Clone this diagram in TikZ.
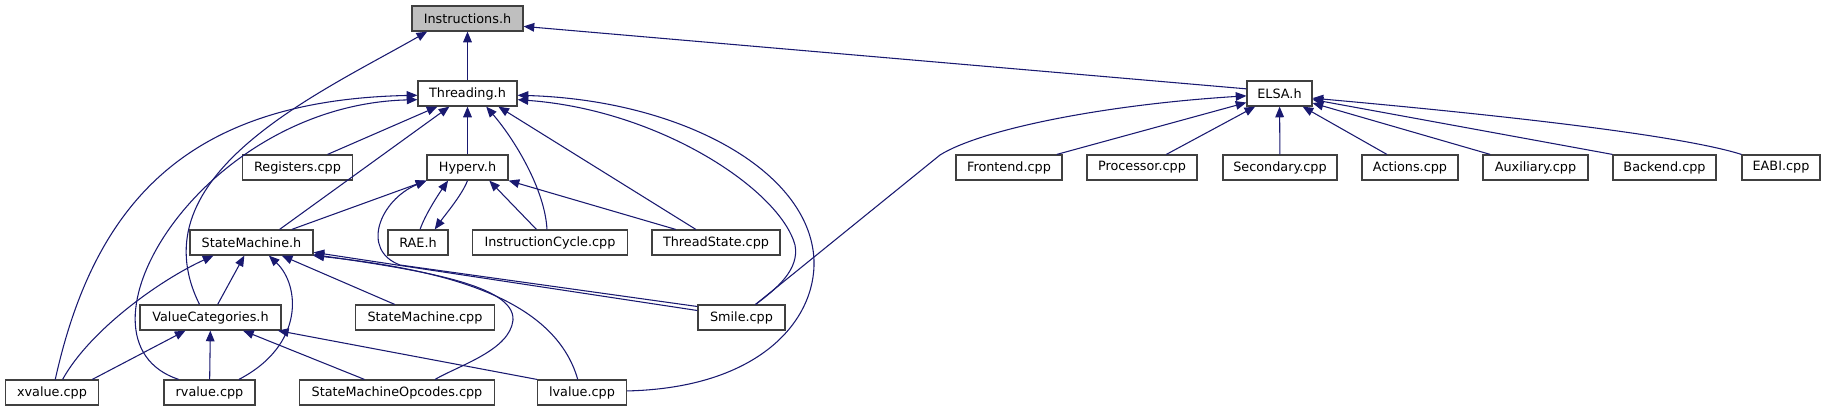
\documentclass[tikz,border=0pt]{standalone}
\usepackage{fontspec}
\setmainfont{DejaVu Sans}
\usepackage{tikz}
\usetikzlibrary{arrows.meta}
\definecolor{edgeblue}{HTML}{191970}
\definecolor{boxgrey}{HTML}{404040}
\definecolor{rootgrey}{HTML}{BFBFBF}

\begin{document}
\begin{tikzpicture}[x=0.75pt, y=-0.75pt]
    \tikzstyle{file} = [rectangle, draw=boxgrey, fill=white, line width=0.9pt, minimum height=18.75pt, inner sep=0pt, font=\fontsize{9.6}{11}\selectfont]
    \tikzstyle{root} = [file, fill=rootgrey]
    \tikzstyle{incl} = [draw=edgeblue, line width=0.8pt, {Triangle[length=8pt, width=6.5pt]}-]
    \useasboundingbox (0,0) rectangle (1826,411);

    % rank 0 and 1
    \node[root, minimum width=83.25pt] (instr) at (467.5,18.5) {Instructions.h};
    \node[file, minimum width=74.25pt] (threading) at (467.5,93.5) {Threading.h};
    \node[file, minimum width=48.75pt] (elsa) at (1279.5,93.5) {ELSA.h};

    % rank 2
    \node[file, minimum width=82.5pt] (registers) at (297.5,167.5) {Registers.cpp};
    \node[file, minimum width=60.75pt] (hyperv) at (467.5,167.5) {Hyperv.h};
    \node[file, minimum width=79.5pt] (frontend) at (1009,167.5) {Frontend.cpp};
    \node[file, minimum width=82.5pt] (processor) at (1142,167.5) {Processor.cpp};
    \node[file, minimum width=85.5pt] (secondary) at (1280,167.5) {Secondary.cpp};
    \node[file, minimum width=72pt] (actions) at (1410,167.5) {Actions.cpp};
    \node[file, minimum width=78.75pt] (auxiliary) at (1535.5,167.5) {Auxiliary.cpp};
    \node[file, minimum width=77.25pt] (backend) at (1664.5,167.5) {Backend.cpp};
    \node[file, minimum width=58.5pt] (eabi) at (1781,167.5) {EABI.cpp};

    % rank 3
    \node[file, minimum width=92.25pt] (smh) at (251.5,242.5) {StateMachine.h};
    \node[file, minimum width=45pt] (rae) at (418,242.5) {RAE.h};
    \node[file, minimum width=116.25pt] (icycle) at (550,242.5) {InstructionCycle.cpp};
    \node[file, minimum width=96pt] (tstate) at (716,242.5) {ThreadState.cpp};

    % rank 4
    \node[file, minimum width=105.75pt] (valcat) at (210.5,317.5) {ValueCategories.h};
    \node[file, minimum width=104.25pt] (smcpp) at (425,317.5) {StateMachine.cpp};
    \node[file, minimum width=65.25pt] (smile) at (741.5,317.5) {Smile.cpp};

    % rank 5
    \node[file, minimum width=69.75pt] (xvalue) at (52,392.5) {xvalue.cpp};
    \node[file, minimum width=68.25pt] (rvalue) at (209.5,392.5) {rvalue.cpp};
    \node[file, minimum width=146.25pt] (opcodes) at (397,392.5) {StateMachineOpcodes.cpp};
    \node[file, minimum width=66.75pt] (lvalue) at (582,392.5) {lvalue.cpp};

    % Instructions.h
    \draw[incl] (instr) -- (threading);
    \draw[incl] (instr.-8) -- (elsa.172);
    \draw[incl] (instr.-162) .. controls (320,93) and (135,175) .. (valcat.130);

    % Threading.h
    \draw[incl] (threading) -- (registers);
    \draw[incl] (threading) -- (hyperv);
    \draw[incl] (threading) -- (smh.25);
    \draw[incl] (threading.182) .. controls (190,100) and (95,200) .. (xvalue.76);
    \draw[incl] (threading.187.5) .. controls (200,105) and (60,340) .. (rvalue.157);
    \draw[incl] (threading.-35.5) .. controls (515,140) and (545,190) .. (icycle.103);
    \draw[incl] (threading.-23) -- (tstate.147);
    \draw[incl] (threading.-7.5) .. controls (660,110) and (780,190) .. (795,245) .. controls (800,270) and (775,290) .. (smile.43);
    \draw[incl] (threading.-2) .. controls (680,100) and (810,170) .. (814,260) .. controls (816,320) and (760,388) .. (lvalue.2);

    % Hyperv.h
    \draw[incl] (hyperv.south west) -- (smh.18);
    \draw[incl] (hyperv.south west) .. controls (380,200) and (360,250) .. (400,265) -- (smile.166);
    \draw[incl] (hyperv.-146) .. controls (438,195) and (425,215) .. (rae.81);
    \draw[incl] (rae.38) .. controls (445,215) and (462,195) .. (hyperv.south);
    \draw[incl] (hyperv.-31) -- (icycle.136);
    \draw[incl] (hyperv.south east) -- (tstate.162);

    % StateMachine.h
    \draw[incl] (smh) -- (valcat);
    \draw[incl] (smh.-161) .. controls (160,280) and (90,330) .. (xvalue.51);
    \draw[incl] (smh.-37) .. controls (300,285) and (305,345) .. (rvalue.24);
    \draw[incl] (smh) -- (smcpp);
    \draw[incl] (smh.-9) -- (smile.171);
    \draw[incl] (smh.-11) .. controls (420,270) and (515,285) .. (513,320) .. controls (510,350) and (460,365) .. (opcodes.19);
    \draw[incl] (smh.-12) .. controls (450,270) and (555,300) .. (lvalue.108);

    % ValueCategories.h
    \draw[incl] (valcat) -- (xvalue.18);
    \draw[incl] (valcat) -- (rvalue);
    \draw[incl] (valcat) -- (opcodes);
    \draw[incl] (valcat.-11) -- (lvalue.north west);

    % ELSA.h
    \draw[incl] (elsa) -- (frontend);
    \draw[incl] (elsa) -- (processor);
    \draw[incl] (elsa) -- (secondary);
    \draw[incl] (elsa) -- (actions);
    \draw[incl] (elsa) -- (auxiliary);
    \draw[incl] (elsa) -- (backend.north west);
    \draw[incl] (elsa.-8) .. controls (1500,115) and (1680,135) .. (eabi.north west);
    \draw[incl] (elsa.184) .. controls (1100,105) and (980,130) .. (940,155) -- (smile.43);
\end{tikzpicture}
\end{document}
